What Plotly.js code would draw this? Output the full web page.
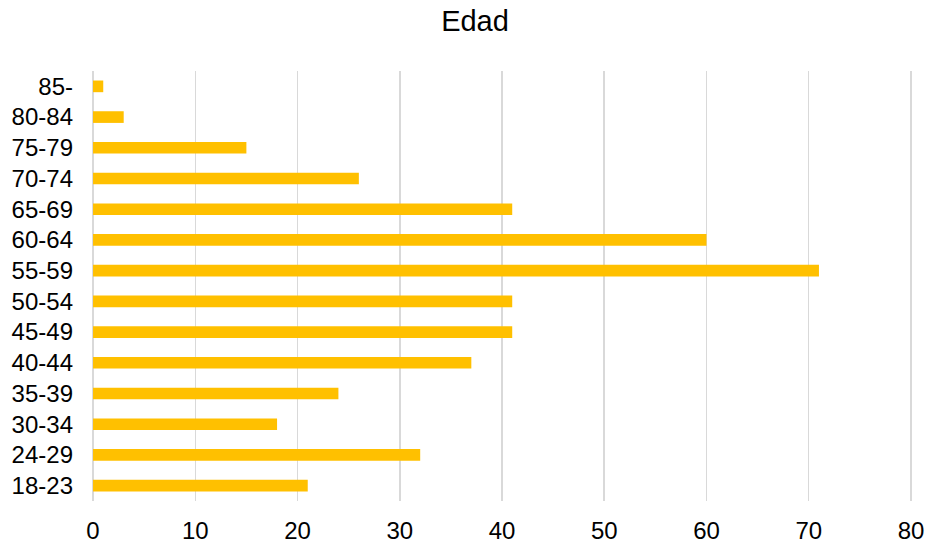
<!DOCTYPE html>
<html>
<head>
<meta charset="utf-8">
<script src="https://cdn.plot.ly/plotly-3.0.1.min.js"></script>
<style>html,body{margin:0;padding:0;background:#fff;}#chart{width:928px;height:546px;}</style>
</head>
<body>
<div id="chart"></div>
<script>
const categories = ["18-23","24-29","30-34","35-39","40-44","45-49","50-54","55-59","60-64","65-69","70-74","75-79","80-84","85-"];
const values = [21, 32, 18, 24, 37, 41, 41, 71, 60, 41, 26, 15, 3, 1];
const xTicks = [0,10,20,30,40,50,60,70,80];

const trace = {
  type: 'bar',
  orientation: 'h',
  y: categories,
  x: values,
  marker: {color: '#FFC000'},
  hoverinfo: 'x+y'
};

const layout = {
  width: 928,
  height: 546,
  margin: {l: 92, r: 16, t: 71, b: 45},
  paper_bgcolor: '#fff',
  plot_bgcolor: '#fff',
  font: {family: 'Liberation Sans, Arial, sans-serif', color: '#000', size: 24},
  title: {text: 'Edad', font: {size: 29, color: '#000'}, x: 475/928, xanchor: 'center', y: 1 - 21/546, yref: 'container', yanchor: 'middle'},
  bargap: 0.62,
  showlegend: false,
  xaxis: {
    range: [-0.1, 80.1],
    tickvals: xTicks,
    ticktext: xTicks.map(String),
    showgrid: true,
    gridcolor: '#d9d9d9',
    gridwidth: 1.5,
    zeroline: false,
    showline: false,
    ticks: '',
    ticklabelstandoff: 13,
    tickfont: {size: 24}
  },
  yaxis: {
    type: 'category',
    categoryorder: 'array',
    categoryarray: categories,
    showgrid: false,
    zeroline: false,
    showline: false,
    ticks: '',
    ticklabelstandoff: 18,
    tickfont: {size: 24}
  }
};

Plotly.newPlot('chart', [trace], layout, {displayModeBar: false, staticPlot: true});
</script>
</body>
</html>
